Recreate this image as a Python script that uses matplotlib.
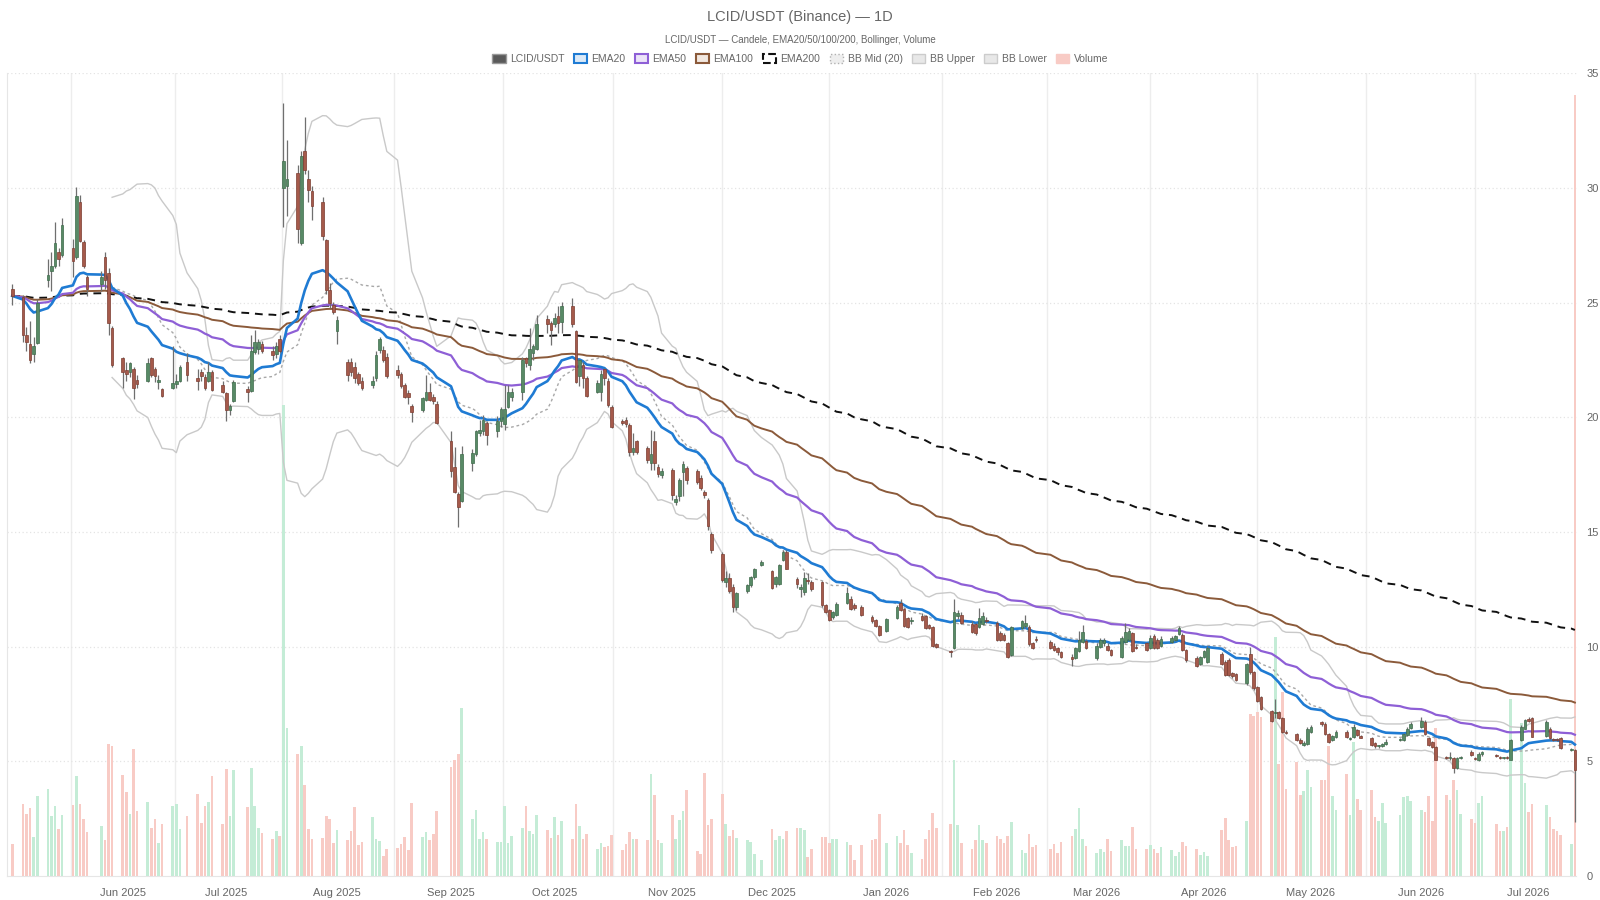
import numpy as np
import pandas as pd
import matplotlib
matplotlib.use("Agg")
import matplotlib.pyplot as plt
import matplotlib.dates as mdates
from matplotlib.patches import Patch

plt.rcParams['font.family'] = ['Liberation Sans', 'DejaVu Sans']

# ---------------- data ----------------
holidays = ['2025-05-26', '2025-06-19', '2025-07-04', '2025-09-01', '2025-11-27',
            '2025-12-25', '2026-01-01', '2026-01-19', '2026-02-16', '2026-04-03',
            '2026-05-25', '2026-06-19', '2026-07-03']
start_date, end_date = '2025-05-02', '2026-07-14'

opens = [
    25.6,
    25.25, 23.6, 23.2, 22.75, 23.25,
    26.0, 26.4, 26.6, 27.2, 27.1,
    27.4, 27.0, 29.4, 27.65, 26.1,
    25.8, 27.0, 26.3, 23.9,
    22.6, 22.05, 22.0, 22.1, 21.65,
    21.6, 22.6, 22.1, 21.55, 21.25,
    21.3, 21.45, 21.6, 22.4,
    21.7, 22.0, 21.75, 21.6, 22.0,
    21.4, 21.05, 20.3, 20.7,
    21.25, 21.15, 22.85, 23.0, 23.2,
    22.9, 22.75, 23.4, 30.0, 30.1,
    30.65, 27.6, 31.6, 30.4, 29.85,
    29.4, 27.75, 25.55, 24.9, 23.75,
    22.4, 22.4, 22.2, 21.9, 21.6,
    21.4, 21.7, 22.95, 22.95, 22.65,
    22.05, 21.9, 21.4, 21.05, 20.5,
    20.3, 20.75, 21.1, 20.9, 20.6,
    18.95, 17.85, 16.65, 16.35,
    18.0, 18.4, 19.3, 19.4, 19.75,
    19.4, 19.85, 19.7, 20.45, 20.9,
    21.1, 22.6, 22.3, 22.8, 23.0,
    24.3, 24.1, 24.05, 24.4, 24.15,
    24.85, 23.75, 21.8, 22.3, 21.7,
    21.1, 21.1, 22.1, 21.6, 20.45,
    19.85, 19.9, 19.65, 18.5, 18.95,
    18.65, 18.0, 18.95, 17.85, 17.5,
    17.7, 16.3, 16.55, 17.6, 17.8,
    17.65, 17.35, 16.75, 16.4, 14.9,
    14.05, 12.8, 13.0, 12.6, 11.75,
    12.45, 12.7, 13.05, 13.55,
    13.3, 12.75, 12.75, 13.8, 14.15,
    12.95, 12.5, 12.4, 12.9, 12.8,
    12.8, 11.8, 11.6, 11.3, 11.4,
    11.9, 12.1, 11.8, 11.75,
    11.3, 11.15, 10.9, 10.7,
    11.25, 11.9, 11.65, 11.25, 11.1,
    11.35, 11.35, 10.95, 10.85, 10.1,
    9.8, 9.95, 11.35, 11.4,
    11.0, 11.0, 10.85, 11.0, 11.15,
    11.05, 10.6, 10.5, 10.15, 9.65,
    10.8, 10.9, 10.85, 10.15, 10.35,
    10.2, 10.05, 9.95, 9.75,
    9.55, 9.5, 9.8, 10.2, 10.25,
    9.5, 10.0, 10.15, 10.05, 9.85,
    9.55, 10.2, 10.3, 10.6, 10.0,
    10.15, 9.95, 10.45, 10.3, 10.05,
    10.2, 10.3, 10.55, 10.5, 9.85,
    9.5, 9.25, 9.55, 9.35,
    9.7, 9.35, 9.4, 8.85, 8.8,
    8.4, 9.7, 8.9, 8.25, 7.8,
    7.2, 7.1, 7.15, 6.9, 6.3,
    6.2, 5.95, 5.72, 5.75, 6.3,
    6.7, 6.65, 6.2, 5.95, 6.05,
    6.3, 5.98, 6.05, 6.35, 6.1,
    6.0, 5.8, 5.66, 5.68, 5.75,
    5.92, 5.93, 6.15, 6.45,
    6.51, 6.73, 6.0, 5.86, 5.64,
    5.2, 5.13, 5.13, 4.69, 5.15,
    5.42, 5.15, 5.05, 5.3,
    5.28, 5.2, 5.13, 5.18, 5.08,
    5.93, 6.43, 6.85, 6.87,
    6.1, 6.43, 5.98, 5.97, 6.0,
    5.48, 5.49,
]

highs = [
    25.8,
    25.35, 23.95, 24.2, 23.5, 25.15,
    26.9, 27.2, 28.5, 27.4, 28.7,
    27.8, 30.05, 29.7, 27.75, 26.2,
    26.4, 27.2, 26.5, 24.0,
    22.65, 22.4, 22.4, 22.2, 21.85,
    22.6, 22.65, 22.2, 21.85, 21.3,
    23.1, 21.9, 22.3, 22.8,
    22.1, 22.1, 21.9, 22.4, 22.05,
    21.6, 21.1, 20.6, 21.65,
    21.35, 23.6, 23.8, 23.4, 23.35,
    23.1, 23.3, 23.6, 33.7, 32.1,
    31.0, 31.6, 33.1, 30.8, 30.1,
    29.6, 27.8, 25.85, 25.05, 24.4,
    22.55, 22.6, 22.4, 22.0, 21.75,
    21.8, 22.9, 23.5, 23.1, 22.8,
    22.3, 22.0, 21.5, 21.2, 20.6,
    20.9, 21.85, 21.5, 21.0, 20.7,
    19.4, 18.7, 16.75, 18.75,
    18.6, 19.45, 19.9, 20.1, 19.85,
    20.05, 20.45, 21.4, 21.4, 21.3,
    22.65, 22.65, 23.9, 23.2, 24.45,
    24.45, 24.2, 24.55, 24.85, 25.05,
    25.2, 23.8, 22.55, 22.4, 21.8,
    21.65, 22.05, 22.15, 21.7, 20.55,
    19.95, 20.0, 19.75, 19.3, 19.0,
    18.75, 19.45, 19.4, 17.95, 17.8,
    17.8, 16.6, 17.35, 18.1, 17.9,
    17.75, 17.5, 16.85, 16.5, 15.0,
    14.15, 13.3, 13.2, 12.75, 12.4,
    12.75, 13.1, 13.45, 13.8,
    13.35, 13.1, 13.6, 14.2, 14.2,
    13.05, 12.75, 13.25, 13.2, 12.9,
    12.85, 11.85, 11.65, 11.55, 11.95,
    12.6, 12.2, 11.9, 11.8,
    11.4, 11.2, 10.95, 11.25,
    11.8, 12.1, 11.7, 11.3, 11.3,
    11.45, 11.4, 11.0, 10.9, 10.15,
    9.85, 12.1, 11.6, 11.5,
    11.1, 11.05, 11.7, 11.5, 11.3,
    11.1, 10.7, 10.6, 10.2, 10.9,
    11.15, 11.4, 10.95, 10.2, 10.45,
    10.3, 10.15, 10.0, 9.8,
    9.7, 10.0, 10.7, 10.95, 10.35,
    10.15, 10.4, 10.4, 10.15, 9.9,
    10.45, 11.05, 10.8, 10.65, 10.1,
    10.2, 10.5, 10.55, 10.4, 10.45,
    10.45, 10.5, 10.9, 10.6, 9.9,
    9.6, 9.6, 9.85, 10.05,
    9.75, 9.4, 9.5, 8.9, 8.85,
    9.3, 10.0, 8.95, 8.3, 7.85,
    7.25, 7.7, 7.2, 6.95, 6.35,
    6.25, 6.0, 5.9, 6.5, 6.6,
    6.75, 6.7, 6.25, 6.15, 6.35,
    6.35, 6.05, 6.65, 6.4, 6.15,
    6.05, 5.85, 5.72, 5.8, 5.98,
    6.0, 6.25, 6.5, 6.7,
    6.95, 6.8, 6.05, 5.9, 5.66,
    5.25, 5.4, 5.2, 5.2, 5.25,
    5.5, 5.2, 5.4, 5.45,
    5.32, 5.25, 5.2, 5.22, 5.98,
    6.6, 6.85, 6.95, 6.95,
    6.8, 6.5, 6.02, 6.0, 6.05,
    5.6, 5.55,
]

lows = [
    24.9,
    23.3, 22.9, 22.35, 22.4, 23.2,
    25.7, 25.5, 26.5, 26.6, 27.0,
    26.1, 26.9, 27.65, 26.5, 25.3,
    25.5, 25.6, 23.6, 22.2,
    21.3, 21.6, 21.75, 20.8, 21.3,
    21.55, 21.75, 21.55, 21.25, 20.9,
    21.25, 21.3, 21.55, 21.6,
    21.2, 21.6, 21.2, 21.55, 21.15,
    21.05, 19.85, 20.1, 20.65,
    20.65, 21.1, 22.75, 22.75, 22.8,
    22.5, 22.6, 22.8, 28.3, 28.8,
    27.6, 27.5, 30.6, 29.4, 28.6,
    27.75, 25.4, 24.75, 24.5, 23.2,
    21.6, 21.8, 21.5, 21.4, 21.2,
    21.3, 21.6, 22.8, 22.4, 21.7,
    21.7, 21.3, 20.85, 20.6, 19.8,
    20.25, 20.7, 20.7, 20.6, 19.7,
    17.4, 16.7, 15.2, 16.3,
    17.65, 18.3, 19.2, 19.25, 18.8,
    19.15, 19.6, 19.45, 20.4, 20.7,
    20.75, 22.2, 22.05, 22.5, 22.95,
    23.7, 23.15, 23.95, 23.7, 23.7,
    23.95, 21.5, 21.35, 21.3, 20.9,
    21.05, 20.7, 21.4, 20.45, 19.55,
    19.65, 19.6, 18.3, 18.35, 18.4,
    18.0, 17.7, 17.7, 17.4, 17.35,
    16.4, 16.2, 16.35, 16.55, 17.1,
    17.1, 16.85, 16.5, 15.1, 14.1,
    12.8, 12.6, 12.35, 11.5, 11.6,
    12.35, 12.6, 12.95, 13.5,
    12.5, 12.6, 12.7, 13.75, 13.4,
    12.55, 12.15, 12.25, 12.75, 12.45,
    11.75, 11.45, 11.1, 11.2, 11.35,
    11.85, 11.6, 11.6, 11.35,
    11.05, 10.85, 10.45, 10.65,
    11.2, 11.55, 10.85, 10.8, 11.0,
    11.1, 10.75, 10.75, 10.0, 9.95,
    9.55, 9.9, 11.2, 11.0,
    10.6, 10.5, 10.8, 10.95, 11.05,
    10.25, 10.25, 10.25, 9.5, 9.6,
    10.75, 10.8, 10.05, 9.9, 10.2,
    9.9, 9.8, 9.65, 9.5,
    9.15, 9.45, 9.75, 10.15, 9.9,
    9.4, 9.95, 10.05, 9.8, 9.6,
    9.5, 10.15, 10.25, 9.75, 9.9,
    9.8, 9.9, 9.9, 9.9, 10.0,
    10.15, 10.25, 10.5, 9.8, 9.35,
    9.1, 9.2, 9.5, 9.3,
    9.2, 8.7, 8.7, 8.65, 8.5,
    8.35, 8.8, 8.1, 7.6, 7.25,
    6.7, 6.9, 6.85, 6.25, 6.2,
    5.9, 5.75, 5.65, 5.7, 6.25,
    6.55, 6.15, 5.8, 5.9, 6.0,
    6.0, 5.94, 6.0, 6.1, 6.0,
    5.65, 5.6, 5.6, 5.62, 5.72,
    5.88, 5.9, 6.1, 6.4,
    6.45, 6.15, 5.68, 5.6, 5.05,
    5.1, 5.05, 4.5, 4.65, 5.1,
    5.25, 5.05, 5.0, 5.25,
    5.18, 5.1, 5.1, 5.1, 5.05,
    5.9, 6.4, 6.7, 6.05,
    6.05, 5.95, 5.9, 5.88, 5.55,
    5.45, 2.37,
]

closes = [
    25.3,
    23.6, 23.3, 22.5, 23.1, 25.0,
    26.2, 26.6, 27.6, 26.9, 28.4,
    26.8, 29.65, 27.7, 26.6, 25.6,
    26.1, 26.0, 24.1, 22.3,
    22.0, 21.9, 22.35, 21.3, 21.45,
    22.35, 21.85, 21.8, 21.65, 20.95,
    21.5, 21.6, 22.2, 21.85,
    21.6, 21.8, 21.3, 22.0, 21.2,
    21.1, 20.3, 20.5, 21.55,
    21.1, 22.9, 23.3, 23.3, 22.9,
    22.7, 23.1, 22.9, 31.2, 30.4,
    28.2, 31.4, 30.8, 29.9, 29.2,
    27.9, 25.55, 25.0, 24.6, 24.25,
    21.85, 22.0, 21.7, 21.5, 21.3,
    21.6, 22.7, 23.4, 22.5, 21.8,
    21.85, 21.35, 20.9, 20.9, 20.25,
    20.85, 21.1, 20.75, 20.7, 19.75,
    17.65, 16.75, 16.1, 18.4,
    18.45, 19.4, 19.45, 19.9, 19.25,
    19.85, 20.35, 20.35, 21.1, 21.1,
    22.5, 22.35, 23.0, 23.1, 24.05,
    24.05, 23.8, 24.35, 24.1, 24.85,
    24.05, 21.55, 22.5, 21.7, 20.95,
    21.5, 21.9, 21.7, 20.55, 19.6,
    19.75, 19.7, 18.5, 18.65, 18.5,
    18.15, 18.4, 18.0, 17.55, 17.65,
    16.6, 16.45, 17.25, 17.95, 17.25,
    17.2, 16.9, 16.6, 15.25, 14.2,
    12.9, 13.0, 12.45, 11.75, 12.35,
    12.7, 13.05, 13.4, 13.7,
    12.55, 13.05, 13.55, 14.15, 13.4,
    12.75, 12.6, 13.0, 12.85, 12.5,
    11.8, 11.5, 11.15, 11.5, 11.85,
    12.35, 11.65, 11.7, 11.4,
    11.1, 10.9, 10.5, 11.2,
    11.75, 11.6, 10.9, 10.85, 11.15,
    11.15, 10.8, 10.8, 10.05, 10.0,
    9.75, 11.5, 11.45, 11.05,
    10.65, 10.6, 11.25, 11.35, 11.1,
    10.3, 10.3, 10.3, 9.55, 10.85,
    11.1, 11.05, 10.1, 9.95, 10.3,
    9.95, 9.85, 9.75, 9.55,
    9.45, 9.95, 10.3, 10.65, 9.95,
    10.05, 10.3, 10.3, 9.85, 9.65,
    10.4, 10.65, 10.7, 9.8, 9.95,
    9.85, 10.4, 9.95, 9.95, 10.35,
    10.4, 10.45, 10.8, 9.85, 9.4,
    9.15, 9.55, 9.8, 9.95,
    9.25, 8.75, 8.75, 8.7, 8.55,
    9.25, 8.9, 8.2, 7.65, 7.3,
    6.75, 7.15, 6.9, 6.3, 6.25,
    5.95, 5.8, 5.8, 6.4, 6.5,
    6.65, 6.2, 5.85, 6.1, 6.3,
    6.05, 6.01, 6.5, 6.15, 6.03,
    5.7, 5.65, 5.68, 5.76, 5.85,
    5.95, 6.19, 6.43, 6.62,
    6.77, 6.19, 5.71, 5.64, 5.08,
    5.13, 5.2, 4.69, 5.13, 5.2,
    5.27, 5.1, 5.34, 5.4,
    5.22, 5.14, 5.17, 5.13, 5.93,
    6.51, 6.8, 6.75, 6.07,
    6.73, 6.0, 5.93, 5.92, 5.57,
    5.56, 4.62,
]

volumes = [
    4.1,
    9.2, 8.0, 8.7, 4.95, 10.2,
    11.1, 7.7, 8.9, 6.0, 7.8,
    9.1, 12.8, 9.2, 7.3, 5.6,
    6.4, 4.6, 16.9, 16.7,
    12.9, 10.7, 7.9, 16.2, 8.3,
    9.5, 6.2, 7.3, 4.2, 6.6,
    8.9, 9.2, 6.0, 7.7,
    10.5, 6.8, 9.0, 9.5, 12.8,
    6.7, 13.7, 7.7, 13.6,
    8.8, 13.8, 8.9, 6.2, 5.5,
    4.8, 5.8, 5.1, 60.3, 18.9,
    15.6, 16.7, 11.7, 6.0, 4.8,
    4.9, 7.7, 7.3, 4.2, 5.9,
    4.6, 5.8, 8.8, 4.0, 4.4,
    7.6, 4.7, 4.5, 2.6, 3.4,
    3.6, 4.1, 5.0, 3.3, 9.3,
    5.0, 5.6, 4.6, 5.4, 8.3,
    14.0, 14.9, 15.6, 21.5,
    7.3, 8.5, 4.8, 5.6, 4.8,
    4.4, 4.4, 8.9, 4.2, 5.1,
    6.2, 8.9, 5.8, 5.4, 7.8,
    5.9, 4.9, 7.6, 5.3, 7.1,
    4.7, 9.2, 6.4, 4.7, 5.4,
    3.4, 4.2, 3.7, 3.9, 5.3,
    3.3, 4.1, 5.6, 4.7, 4.8,
    4.6, 13.0, 10.4, 4.6, 4.2,
    7.8, 4.7, 7.2, 8.3, 11.0,
    3.2, 2.8, 13.2, 6.5, 7.3,
    10.5, 6.6, 5.1, 5.9, 4.9,
    4.6, 4.4, 2.8, 2.0,
    6.0, 4.6, 5.1, 4.8, 5.7,
    6.1, 6.1, 5.9, 2.45, 3.5,
    5.0, 5.0, 4.2, 4.8, 4.8,
    4.4, 3.95, 2.1, 3.95,
    4.6, 4.8, 8.0, 4.25,
    5.1, 4.2, 5.95, 3.95, 2.9,
    2.24, 4.8, 5.9, 8.1, 6.1,
    6.7, 14.8, 6.5, 4.2,
    3.5, 4.6, 6.5, 4.6, 4.2,
    5.1, 4.8, 4.2, 5.1, 6.9,
    3.3, 2.9, 5.4, 3.65, 3.95,
    3.5, 4.1, 3.0, 4.3,
    5.1, 6.0, 8.7, 4.8, 3.8,
    3.0, 3.4, 3.1, 4.8, 3.2,
    4.6, 3.8, 3.8, 6.3, 3.4,
    3.4, 4.0, 3.5, 3.0, 3.7,
    3.3, 2.5, 3.1, 4.4, 3.8,
    3.5, 2.7, 3.1, 2.6,
    5.9, 7.4, 4.6, 3.7, 3.8,
    7.0, 20.7, 20.5, 21.0, 20.3,
    19.9, 30.6, 14.3, 23.5, 11.1,
    14.6, 10.4, 10.9, 13.6, 11.4,
    12.3, 12.3, 16.6, 10.2, 8.4,
    13.1, 7.8, 17.1, 9.9, 8.5,
    11.0, 7.6, 7.0, 9.4, 6.8,
    7.8, 10.1, 10.2, 9.6,
    8.4, 8.2, 10.2, 7.0, 18.9,
    10.4, 9.7, 12.3, 11.0, 8.0,
    7.3, 6.8, 9.3, 10.2,
    6.7, 5.8, 5.7, 6.3, 22.7,
    19.6, 11.95, 8.2, 9.2,
    9.1, 7.5, 6.0, 5.7, 5.25,
    4.1, 100.0,
]

title = 'LCID/USDT (Binance) — 1D'
subtitle = 'LCID/USDT — Candele, EMA20/50/100/200, Bollinger, Volume'
legend_labels = ['LCID/USDT', 'EMA20', 'EMA50', 'EMA100', 'EMA200',
                 'BB Mid (20)', 'BB Upper', 'BB Lower', 'Volume']
price_ticks = [0, 5, 10, 15, 20, 25, 30, 35]

# ---------------- derived ----------------
dates = pd.bdate_range(start_date, end_date)
dates = dates[~dates.isin(pd.to_datetime(holidays))]
n = min(len(dates), len(closes))
dates = dates[:n]
o = np.array(opens[:n]); h = np.array(highs[:n]); l = np.array(lows[:n])
c = np.array(closes[:n]); v = np.array(volumes[:n])
x = mdates.date2num(dates.to_pydatetime())

cs = pd.Series(c)
ema20 = cs.ewm(span=20, adjust=False).mean()
ema50 = cs.ewm(span=50, adjust=False).mean()
ema100 = cs.ewm(span=100, adjust=False).mean()
ema200 = cs.ewm(span=200, adjust=False).mean()
bb_mid = cs.rolling(20).mean()
bb_std = cs.rolling(20).std(ddof=0)
bb_up = bb_mid + 2 * bb_std
bb_lo = bb_mid - 2 * bb_std

up = c >= o

# ---------------- figure ----------------
W, H = 1600, 900
fig = plt.figure(figsize=(16, 9), dpi=100)
left, right, top, bottom = 7, 1576.5, 73.4, 876
pos = [left / W, (H - bottom) / H, (right - left) / W, (bottom - top) / H]

axv = fig.add_axes(pos)
ax = fig.add_axes(pos, sharex=axv)
ax.patch.set_alpha(0)

bar_w = 0.75
# volume
vcol = np.where(up, '#c4ecd6', '#f8cbc5')
axv.bar(x, v, width=bar_w, color=vcol, linewidth=0)
axv.set_ylim(0, v.max() * (bottom - top) / (bottom - 95))
axv.axis('off')

xmin, xmax = x[0] - 1.46, x[-1] + 0.45
ax.set_xlim(xmin, xmax)
ax.set_ylim(0, 35)

# month ticks at first trading day of each month (skip first month)
s = pd.Series(x, index=dates)
firsts = s.groupby([dates.year, dates.month]).first().values[1:]
first_dates = pd.Series(dates).groupby([dates.year, dates.month]).first().values[1:]
ax.set_xticks(firsts)
ax.set_xticklabels([pd.Timestamp(d).strftime('%b %Y') for d in first_dates])

# vertical grid lines offset between ticks
glines = [firsts[0] - (firsts[1] - firsts[0]) / 2]
glines += [(firsts[i] + firsts[i + 1]) / 2 for i in range(len(firsts) - 1)]
for g in glines:
    axv.axvline(g, color='#ededed', lw=1.0, zorder=0)

ax.set_yticks(price_ticks)
ax.yaxis.tick_right()
for yv in price_ticks[1:]:
    axv.axhline(yv * axv.get_ylim()[1] / 35, color='#e4e4e4', lw=0.9, ls=(0, (1, 2)), zorder=0)

ax.tick_params(axis='both', length=0, labelsize=8, colors='#666666')
ax.tick_params(axis='x', pad=9)
ax.tick_params(axis='y', pad=7)
for sp in ['top', 'right']:
    ax.spines[sp].set_visible(False)
ax.spines['left'].set_color('#e6e6e6')
ax.spines['bottom'].set_color('#e6e6e6')

# Bollinger
ax.plot(x, bb_up, color='#c9c9c9', lw=1.0, zorder=2)
ax.plot(x, bb_lo, color='#c9c9c9', lw=1.0, zorder=2)
ax.plot(x, bb_mid, color='#a8a8a8', lw=1.0, ls=(0, (2, 2)), zorder=2)
# EMAs
ax.plot(x, ema200, color='#111111', lw=1.4, ls=(0, (4, 3)), zorder=3)
ax.plot(x, ema100, color='#8b5a3a', lw=1.4, zorder=3)
ax.plot(x, ema50, color='#8e5fd6', lw=1.6, zorder=3)
ax.plot(x, ema20, color='#1f7bd3', lw=1.9, zorder=3)

# candles
ax.vlines(x, l, h, colors='#6f6f6f', lw=0.9, zorder=4)
body_bottom = np.minimum(o, c)
body_h = np.maximum(np.abs(c - o), 0.04)
face = np.where(up, '#588a66', '#a55a4b')
edge = np.where(up, '#3e6b4b', '#7c3d31')
ax.bar(x, body_h, bottom=body_bottom, width=bar_w, color=face,
       edgecolor=edge, linewidth=0.5, zorder=5)

# titles
fig.text(0.5, 1 - 17.5 / H, title, ha='center', va='center', fontsize=10.5, color='#666666')
fig.text(0.5, 1 - 40 / H, subtitle, ha='center', va='center', fontsize=7, color='#666666')

handles = [
    Patch(facecolor='#5a5a5a', edgecolor='#9a9a9a', lw=1.0),
    Patch(facecolor='#dbe9f7', edgecolor='#1f7bd3', lw=1.5),
    Patch(facecolor='#ece4f8', edgecolor='#8e5fd6', lw=1.5),
    Patch(facecolor='#f2e8e0', edgecolor='#8b5a3a', lw=1.5),
    Patch(facecolor='white', edgecolor='#111111', lw=1.5, ls='--'),
    Patch(facecolor='#eeeeee', edgecolor='#b0b0b0', lw=1.0, ls=':'),
    Patch(facecolor='#e8e8e8', edgecolor='#cccccc', lw=1.0),
    Patch(facecolor='#e8e8e8', edgecolor='#cccccc', lw=1.0),
    Patch(facecolor='#f8cbc5', edgecolor='#f8cbc5', lw=1.0),
]
leg = fig.legend(handles, legend_labels, loc='center', bbox_to_anchor=(0.5, 1 - 59 / H),
                 ncol=9, frameon=False, fontsize=7.5, handlelength=1.3, handleheight=0.9,
                 handletextpad=0.4, columnspacing=0.9)
for t in leg.get_texts():
    t.set_color('#666666')

fig.savefig('out.png', dpi=100)
